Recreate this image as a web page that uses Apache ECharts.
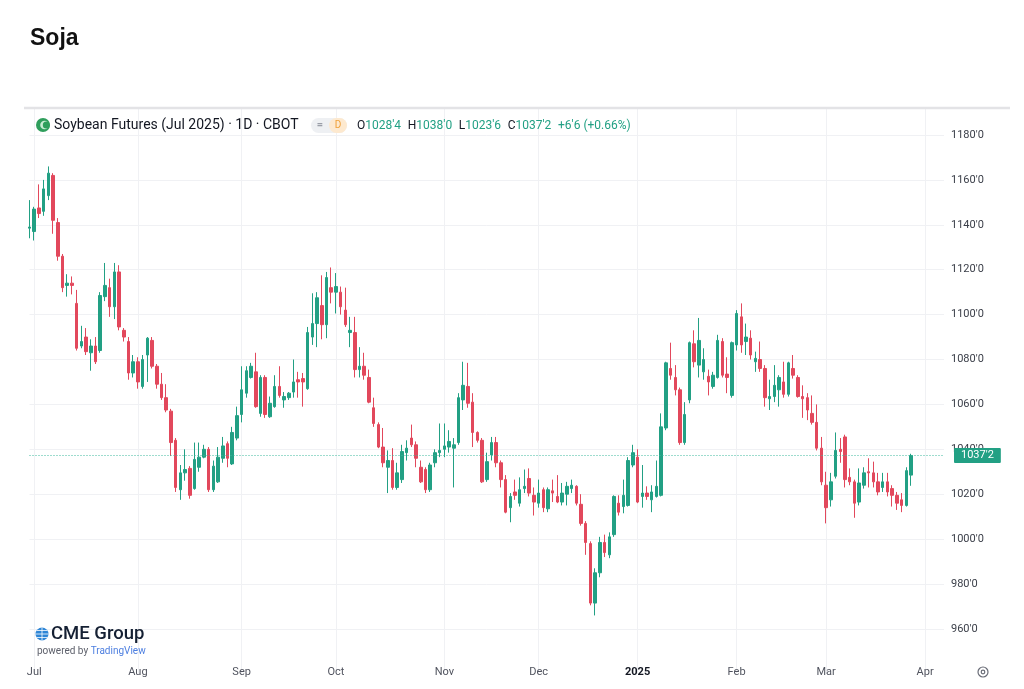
<!DOCTYPE html>
<html>
<head>
<meta charset="utf-8">
<title>Soja</title>
<script src="https://cdn.jsdelivr.net/npm/echarts@6/dist/echarts.min.js"></script>
<style>
  html, body { margin: 0; padding: 0; background: #fff; }
  #chart { width: 1024px; height: 689px; }
</style>
</head>
<body>
<div id="chart"></div>
<script>
// daily bars, [open, close, low, high], one array per month
var jun24 = [[1138.5, 1139, 1134, 1151]];
var jul24 = [
  [1137, 1147, 1133, 1148], [1147.5, 1145, 1143, 1158], [1146, 1156, 1144, 1160],
  [1153, 1163, 1151, 1166], [1162, 1142, 1136, 1163], [1141, 1126, 1124, 1143],
  [1126, 1112, 1110, 1127], [1113, 1114, 1108, 1118], [1114, 1113, 1109, 1117],
  [1105, 1085, 1084, 1111], [1086, 1088, 1085, 1095], [1090, 1083.5, 1082, 1094],
  [1083, 1086, 1075, 1089], [1086, 1079, 1078, 1090], [1084, 1108.5, 1083, 1110],
  [1108, 1113, 1106, 1123], [1112, 1103.5, 1099, 1116], [1103.5, 1119, 1098, 1123],
  [1119, 1094.5, 1093, 1122], [1093, 1090, 1088, 1094], [1088, 1074, 1071, 1090],
  [1074, 1079, 1072, 1082]
];
var aug24 = [
  [1079, 1070, 1067, 1081], [1068, 1080, 1067, 1082], [1082, 1089.5, 1070, 1090],
  [1088.5, 1077, 1076, 1090], [1077, 1069, 1067, 1078], [1069, 1063, 1062, 1074],
  [1063, 1057.5, 1056.5, 1069], [1057, 1043, 1037, 1058], [1044, 1023, 1021, 1045],
  [1022, 1029.5, 1017.5, 1033], [1029.5, 1031, 1026, 1040], [1031.5, 1019.5, 1018, 1032.5],
  [1022.5, 1035.5, 1022, 1043], [1032, 1036.5, 1030, 1043], [1036.5, 1040, 1036, 1042],
  [1040, 1022, 1021, 1041], [1022, 1032.5, 1021, 1035], [1025.5, 1036.5, 1025, 1041],
  [1036, 1041.5, 1034, 1045.5], [1042.5, 1036, 1032, 1043.5], [1033.5, 1047.5, 1033, 1050],
  [1045, 1055, 1044, 1059]
];
var sep24 = [
  [1055.5, 1066.5, 1052, 1077], [1065, 1075, 1063, 1077], [1072, 1077, 1071.5, 1078.5],
  [1074.5, 1059, 1058.5, 1083], [1056, 1072, 1054.5, 1073], [1072, 1055.5, 1054, 1073],
  [1054.5, 1060.5, 1054, 1063.5], [1059, 1068, 1058.5, 1073], [1068, 1064, 1063, 1077],
  [1062, 1063.5, 1058.5, 1065.5], [1063, 1065, 1062, 1065.5], [1065.5, 1070, 1063, 1080],
  [1071, 1070, 1063, 1074.5], [1071.5, 1070, 1059, 1074], [1067, 1092, 1066.5, 1094.5],
  [1090, 1096, 1086.5, 1109.5], [1096, 1107.5, 1085.5, 1110], [1104, 1095.5, 1089, 1117.5],
  [1095.5, 1116.5, 1089.5, 1119], [1112, 1110, 1105, 1121]
];
var oct24 = [
  [1110, 1112.5, 1100.5, 1118.5], [1110, 1103.5, 1100, 1112.5], [1102, 1095.5, 1094.5, 1112],
  [1092, 1093, 1085.5, 1099], [1092, 1075.5, 1072, 1099], [1075.5, 1077, 1072, 1085.5],
  [1077, 1073, 1071, 1083], [1072, 1061, 1060.5, 1075.5], [1058.5, 1051.5, 1050, 1063],
  [1051, 1041, 1040.5, 1052], [1041, 1034, 1032, 1049.5], [1032, 1035, 1020.5, 1039.5],
  [1035, 1023, 1022, 1040.5], [1023, 1029.5, 1022, 1034], [1026.5, 1039, 1025, 1042],
  [1038.5, 1040.5, 1035, 1044], [1045, 1042, 1041, 1051], [1042, 1036, 1032, 1043.5],
  [1032, 1025.5, 1025, 1035], [1031, 1022, 1020.5, 1032], [1022, 1033, 1021, 1034],
  [1034, 1038.5, 1032, 1040], [1038.5, 1039.5, 1036.5, 1051.5]
];
var nov24 = [
  [1040, 1041.5, 1036.5, 1051.5], [1041, 1043.5, 1038.5, 1048.5], [1040.5, 1042, 1023, 1045],
  [1043, 1063, 1042, 1065], [1062, 1068.5, 1057.5, 1079], [1068, 1060.5, 1058.5, 1078.5],
  [1061, 1047.5, 1041, 1065], [1047.5, 1044, 1043, 1048], [1044, 1025.5, 1025, 1045],
  [1026.5, 1034.5, 1025.5, 1038.5], [1037.5, 1043, 1035, 1045.5], [1043, 1034, 1032, 1045.5],
  [1034, 1026.5, 1023, 1035], [1026.5, 1012, 1011.5, 1028.5], [1014, 1019, 1007.5, 1020.5],
  [1021, 1019.5, 1017.5, 1026.5], [1016, 1022, 1014.5, 1027.5], [1022.5, 1023.5, 1020.5, 1031],
  [1027, 1020.5, 1019, 1031.5], [1019.5, 1016.5, 1010.5, 1023]
];
var dec24 = [
  [1016, 1020.5, 1014, 1026.5], [1022, 1014, 1012, 1023], [1013.5, 1022, 1012, 1023],
  [1021.5, 1020.5, 1016.5, 1026.5], [1019, 1016.5, 1016, 1028.5], [1016.5, 1020.5, 1015, 1025],
  [1020, 1023.5, 1015, 1025.5], [1022.5, 1024, 1020.5, 1026.5], [1023.5, 1016, 1015, 1024],
  [1015.5, 1007, 1006, 1020], [1007, 998.5, 993, 1008], [998, 971.5, 970.5, 999],
  [971.5, 985, 966, 987], [985, 998.5, 983, 1001], [998.5, 994, 992, 1002],
  [993, 1001, 991.5, 1003], [1002, 1019, 1001, 1019.5], [1016, 1012, 1010.5, 1019.5],
  [1014.5, 1019.5, 1011.5, 1026.5], [1015, 1035, 1014.5, 1036.5], [1033, 1038.5, 1032, 1042]
];
var jan25 = [
  [1036.5, 1016.5, 1016, 1040], [1019, 1020.5, 1014, 1033], [1020.5, 1019, 1017.5, 1023.5],
  [1017.5, 1021, 1012, 1024], [1019, 1023.5, 1018.5, 1035], [1019.5, 1050, 1019, 1056],
  [1049.5, 1078.5, 1048.5, 1079], [1076, 1073, 1071, 1087.5], [1072, 1066.5, 1064, 1077.5],
  [1066.5, 1043, 1042, 1067.5], [1043, 1055.5, 1042, 1061], [1062, 1087.5, 1060.5, 1088],
  [1087, 1079, 1076.5, 1093], [1077.5, 1088.5, 1072, 1098.5], [1074.5, 1080, 1071, 1085],
  [1072.5, 1070, 1064, 1075.5], [1068, 1073, 1067, 1074.5], [1072, 1088.5, 1071.5, 1091],
  [1088, 1073, 1072, 1089.5], [1073.5, 1072, 1065, 1081], [1064, 1087.5, 1063, 1088]
];
var feb25 = [
  [1086.5, 1100.5, 1084, 1102], [1099, 1086.5, 1083, 1105], [1088, 1090, 1082, 1096],
  [1089.5, 1082, 1080, 1093], [1079, 1080.5, 1074.5, 1083.5], [1080, 1076, 1074.5, 1088],
  [1076, 1063, 1059, 1077.5], [1062.5, 1063.5, 1057.5, 1071], [1063.5, 1068.5, 1061, 1077.5],
  [1066.5, 1072, 1059, 1073], [1070, 1064.5, 1063, 1079], [1064.5, 1078.5, 1063.5, 1079],
  [1076, 1073, 1071.5, 1082], [1072, 1063.5, 1063, 1073], [1063.5, 1062.5, 1054, 1068.5],
  [1063, 1057.5, 1053, 1065], [1056, 1052, 1051, 1064], [1052, 1040.5, 1039.5, 1060],
  [1040.5, 1025.5, 1024, 1045.5]
];
var mar25 = [
  [1024, 1014, 1007, 1030], [1017.5, 1025.5, 1014.5, 1029.5], [1028, 1039.5, 1027, 1047.5],
  [1040, 1039, 1034, 1045], [1045.5, 1026.5, 1023, 1046.5], [1027.5, 1025.5, 1024, 1031.5],
  [1025.5, 1016, 1009.5, 1026.5], [1016.5, 1025, 1015, 1031.5], [1024, 1029.5, 1022.5, 1032],
  [1030, 1029.5, 1023, 1036], [1029.5, 1025.5, 1023, 1034.5], [1025.5, 1021, 1019.5, 1029.5],
  [1023, 1025.5, 1021, 1029.5], [1025.5, 1021, 1019, 1029.5], [1022.5, 1019.5, 1014.5, 1024],
  [1019.5, 1016, 1013, 1021], [1017.5, 1015, 1012, 1020.5], [1015, 1030.5, 1014.5, 1032],
  [1028.5, 1037.25, 1023.75, 1038]
];

// trading calendar (CBOT closed on weekends and these days)
var firstDay = '2024-06-28';
var lastDay = '2025-04-07';
var holidays = ['2024-07-04', '2024-09-02', '2024-11-28', '2024-12-25',
                '2025-01-01', '2025-01-20', '2025-02-17'];
var monthNames = ['Jan', 'Feb', 'Mar', 'Apr', 'May', 'Jun',
                  'Jul', 'Aug', 'Sep', 'Oct', 'Nov', 'Dec'];
var yTicks = [940, 960, 980, 1000, 1020, 1040, 1060, 1080, 1100, 1120, 1140, 1160, 1180, 1200];

var upColor = '#22a084';
var downColor = '#e2485c';

function buildDays(from, to, skip) {
  let days = [];
  let d = new Date(from + 'T00:00:00Z');
  const end = new Date(to + 'T00:00:00Z');
  while (d <= end) {
    const s = d.toISOString().slice(0, 10);
    const wd = d.getUTCDay();
    if (wd !== 0 && wd !== 6 && skip.indexOf(s) < 0)
      days.push(s);
    d.setUTCDate(d.getUTCDate() + 1);
  }
  return days;
}

// CBOT price notation: 1037.25 -> 1037'2 (eighths of a cent)
function cbot(v) {
  const whole = Math.floor(v + 1e-9);
  return whole + "'" + Math.round((v - whole) * 8);
}

function monthOf(s) { return parseInt(s.slice(5, 7), 10) - 1; }

var days = buildDays(firstDay, lastDay, holidays);
var bars = [].concat(jun24, jul24, aug24, sep24, oct24, nov24, dec24, jan25, feb25, mar25);
var seriesData = days.map(function (d, i) { return i < bars.length ? bars[i] : '-'; });

function isMonthStart(index, value) {
  return index > 0 && monthOf(days[index]) !== monthOf(days[index - 1]);
}

var last = bars[bars.length - 1];
var prev = bars[bars.length - 2];
var change = last[1] - prev[1];
var pct = (change / prev[1] * 100).toFixed(2);

var chart = echarts.init(document.getElementById('chart'));

var option = {
  animation: false,
  backgroundColor: '#ffffff',
  textStyle: { fontFamily: 'Roboto, "Noto Sans", sans-serif' },
  grid: { left: 29.5, right: 80, top: 90.1, bottom: 15.2, containLabel: false },
  xAxis: {
    type: 'category',
    data: days,
    boundaryGap: false,
    axisLine: { show: false },
    axisTick: { show: false },
    axisLabel: {
      interval: isMonthStart,
      margin: -7,
      fontSize: 11,
      color: '#50535e',
      formatter: function (value) {
        const m = monthOf(value);
        return m === 0 ? '{y|' + value.slice(0, 4) + '}' : monthNames[m];
      },
      rich: { y: { fontSize: 11, fontWeight: 'bold', color: '#131722' } }
    },
    splitLine: { show: true, interval: isMonthStart, lineStyle: { color: '#f0f1f4', width: 1 } }
  },
  yAxis: {
    type: 'value',
    position: 'right',
    min: yTicks[0],
    max: yTicks[yTicks.length - 1],
    interval: 20,
    axisLine: { show: false },
    axisTick: { show: false },
    axisLabel: {
      showMinLabel: false,
      showMaxLabel: false,
      margin: 7,
      fontSize: 11,
      color: '#3a3e48',
      formatter: cbot
    },
    splitLine: {
      lineStyle: {
        color: yTicks.map(function (t, i) {
          return (i === 0 || i === yTicks.length - 1) ? 'rgba(0,0,0,0)' : '#f0f1f4';
        })
      }
    }
  },
  series: [{
    type: 'candlestick',
    data: seriesData,
    barWidth: 3,
    clip: true,
    itemStyle: {
      color: upColor, color0: downColor,
      borderColor: upColor, borderColor0: downColor,
      borderWidth: 1
    },
    markLine: {
      silent: true,
      symbol: ['none', 'none'],
      lineStyle: { type: [1, 2], color: '#3cb89c', width: 1, opacity: 1 },
      label: {
        position: 'end',
        distance: 10,
        formatter: function () { return cbot(last[1]); },
        backgroundColor: upColor,
        color: '#ffffff',
        fontSize: 11,
        padding: [2, 7, 2, 7],
        borderRadius: 1
      },
      data: [{ yAxis: last[1] }]
    }
  }],
  graphic: [
    // keep the header band clean
    { type: 'rect', z: 5, shape: { x: 0, y: 80, width: 1024, height: 29 }, style: { fill: '#ffffff' } },
    { type: 'text', z: 10, style: { text: 'Soja', x: 30, y: 39, verticalAlign: 'middle',
        font: 'bold 23px "Liberation Sans", Arial, sans-serif', fill: '#111111' } },
    { type: 'line', z: 10, shape: { x1: 24, y1: 108, x2: 1010, y2: 108 },
      style: { stroke: '#e3e3e6', lineWidth: 2.5 } },
    // symbol icon
    { type: 'circle', z: 10, shape: { cx: 43, cy: 125, r: 7 }, style: { fill: '#2f9e5c' } },
    { type: 'circle', z: 10, shape: { cx: 44.5, cy: 125, r: 4.3 }, style: { fill: '#c9ebd3' } },
    { type: 'circle', z: 10, shape: { cx: 46.3, cy: 125, r: 3.5 }, style: { fill: '#2f9e5c' } },
    { type: 'text', z: 10, style: { text: 'Soybean Futures (Jul 2025) \u00b7 1D \u00b7 CBOT', x: 54, y: 125,
        verticalAlign: 'middle', font: '14px Roboto, sans-serif', fill: '#131722' } },
    // interval badge
    { type: 'rect', z: 10, shape: { x: 311, y: 118, width: 36, height: 15, r: 7.5 }, style: { fill: '#eef0f3' } },
    { type: 'rect', z: 10, shape: { x: 329, y: 118, width: 18, height: 15, r: 7.5 }, style: { fill: '#fde9cf' } },
    { type: 'text', z: 10, style: { text: '=', x: 320, y: 125.5, align: 'center', verticalAlign: 'middle',
        font: 'bold 11px Roboto, sans-serif', fill: '#9a9ea8' } },
    { type: 'text', z: 10, style: { text: 'D', x: 338, y: 125.5, align: 'center', verticalAlign: 'middle',
        font: '10px Roboto, sans-serif', fill: '#f0a13a' } },
    // OHLC values of the last bar
    { type: 'text', z: 10, style: {
        x: 357, y: 125.5, verticalAlign: 'middle',
        text: '{k|O}{v|' + cbot(last[0]) + '}  {k|H}{v|' + cbot(last[3]) + '}  {k|L}{v|' + cbot(last[2]) +
              '}  {k|C}{v|' + cbot(last[1]) + '}  {v|+' + cbot(change) + ' (+' + pct + '%)}',
        rich: {
          k: { font: '12px Roboto, sans-serif', fill: '#131722', color: '#131722' },
          v: { font: '12px Roboto, sans-serif', fill: '#22a084', color: '#22a084' }
        }
    } },
    // CME Group / TradingView mark
    { type: 'circle', z: 10, shape: { cx: 42, cy: 634, r: 6.5 }, style: { fill: '#2f86d6' } },
    { type: 'line', z: 11, shape: { x1: 35.5, y1: 634, x2: 48.5, y2: 634 }, style: { stroke: '#ffffff', lineWidth: 0.8 } },
    { type: 'line', z: 11, shape: { x1: 37, y1: 630.5, x2: 47, y2: 630.5 }, style: { stroke: '#ffffff', lineWidth: 0.8 } },
    { type: 'line', z: 11, shape: { x1: 37, y1: 637.5, x2: 47, y2: 637.5 }, style: { stroke: '#ffffff', lineWidth: 0.8 } },
    { type: 'line', z: 11, shape: { x1: 42, y1: 627.5, x2: 42, y2: 640.5 }, style: { stroke: '#ffffff', lineWidth: 0.8 } },
    { type: 'text', z: 10, style: { text: 'CME Group', x: 51, y: 634.5, verticalAlign: 'middle',
        font: '500 18.5px Roboto, sans-serif', fill: '#152033' } },
    { type: 'text', z: 10, style: { x: 37, y: 651, verticalAlign: 'middle',
        text: '{a|powered by }{b|TradingView}',
        rich: {
          a: { font: '10px Roboto, sans-serif', fill: '#5d606b', color: '#5d606b' },
          b: { font: '10px Roboto, sans-serif', fill: '#4d7fe0', color: '#4d7fe0' }
        }
    } },
    // settings button under the price scale
    { type: 'circle', z: 10, shape: { cx: 983, cy: 672, r: 5 },
      style: { fill: 'none', stroke: '#6a6d78', lineWidth: 1.2 } },
    { type: 'circle', z: 10, shape: { cx: 983, cy: 672, r: 1.8 },
      style: { fill: 'none', stroke: '#6a6d78', lineWidth: 1.2 } }
  ]
};

chart.setOption(option);
</script>
</body>
</html>
